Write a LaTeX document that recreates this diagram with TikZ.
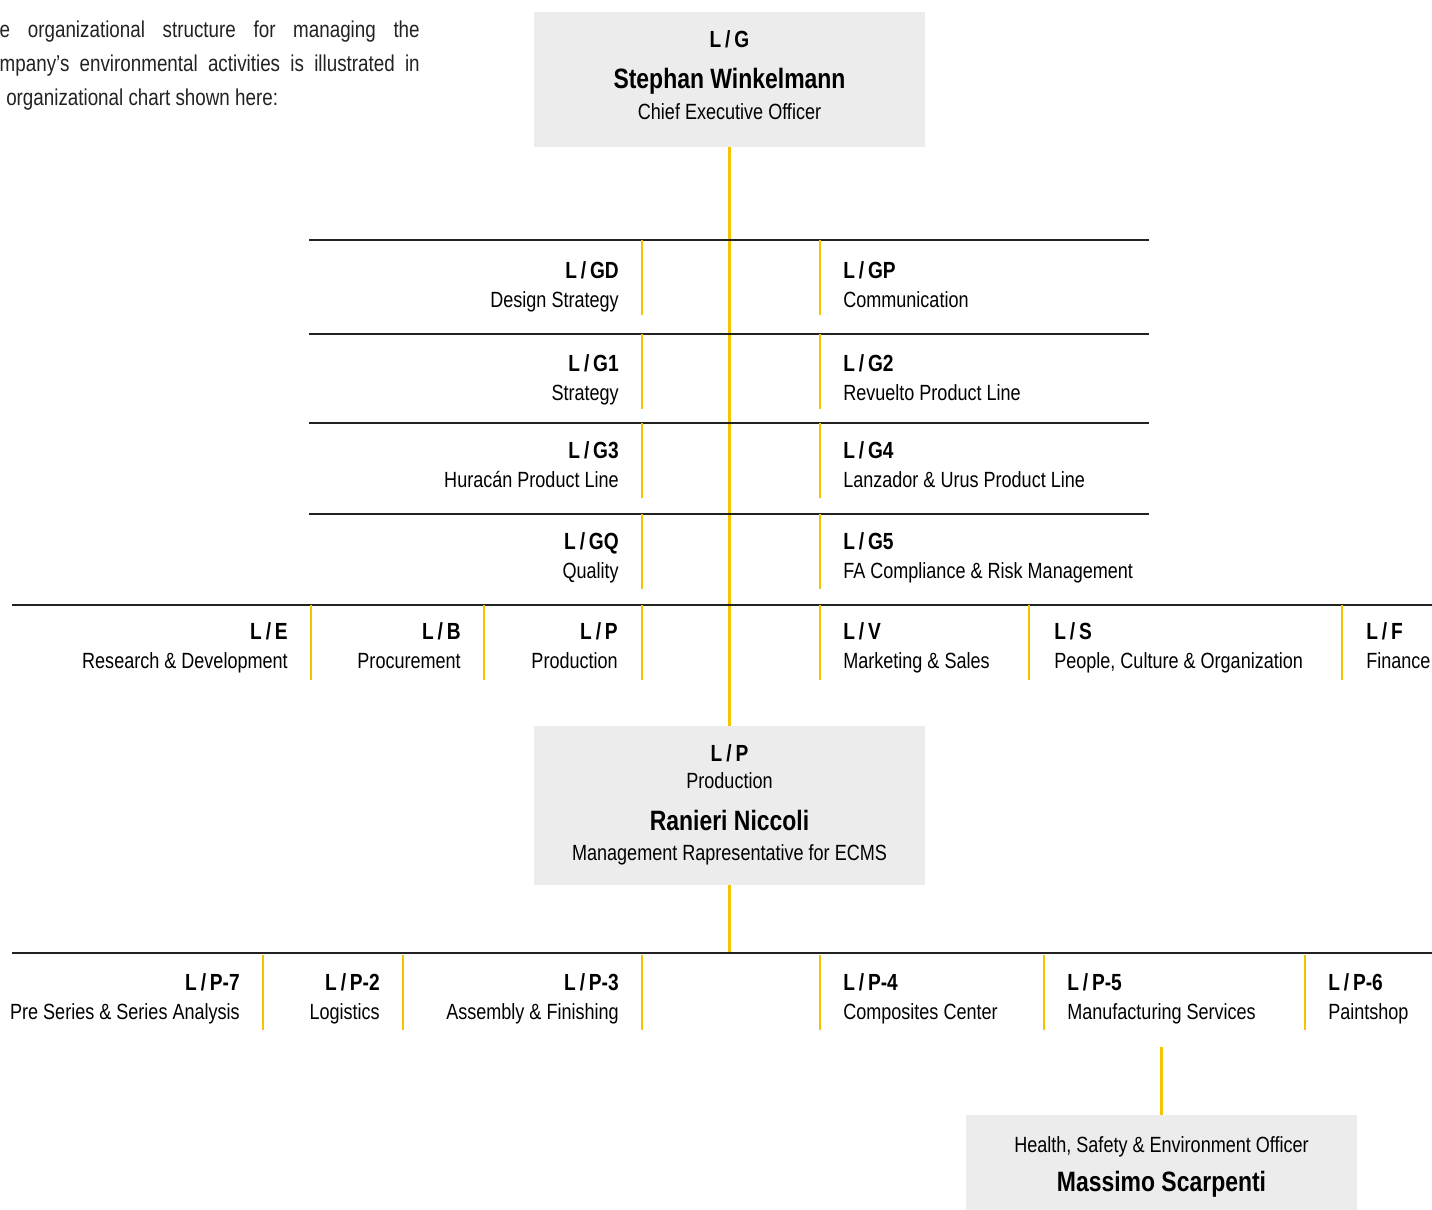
\documentclass[tikz,border=0pt]{standalone}
\usepackage{fontspec}
\setmainfont[FakeStretch=0.82]{Liberation Sans}
\usetikzlibrary{positioning}
\definecolor{lamboyellow}{HTML}{F5C400}
\definecolor{boxgray}{HTML}{ECECEC}
\definecolor{inkgray}{HTML}{222222}

\begin{document}
\begin{tikzpicture}[x=0.75pt,y=-0.75pt,
    every node/.style={inner sep=0pt,text=black},
    txt/.style={font=\fontsize{16.5}{20}\selectfont,text height=11.8pt,text depth=0pt},
    introtxt/.style={font=\fontsize{17.2}{20}\selectfont,text height=12.3pt,text depth=0pt,text=inkgray},
    unitcode/.style={txt,font=\fontsize{17.5}{20}\bfseries\selectfont,text height=12.5pt},
    persname/.style={font=\fontsize{21}{25}\bfseries\selectfont,text height=15pt,text depth=0pt},
    codeL/.style={unitcode,anchor=east},
    descL/.style={txt,anchor=east},
    codeR/.style={unitcode,anchor=west},
    descR/.style={txt,anchor=west},
    headbox/.style={fill=boxgray,minimum width=293.25pt},
    spine/.style={draw=lamboyellow,line width=2.2pt},
    sepline/.style={draw=lamboyellow,line width=1.1pt},
    rule/.style={draw=inkgray,line width=1.1pt}]
  \useasboundingbox (0,0) rectangle (1432,1210);

  % intro text
  \node[introtxt,anchor=east] (intro1) at (420,29) {\makebox[315pt][s]{e organizational structure for managing the}};
  \node[introtxt,anchor=east] (intro2) at (420,63) {\makebox[315pt][s]{mpany’s environmental activities is illustrated in}};
  \node[introtxt,anchor=west] (intro3) at (6,97) {organizational chart shown here:};

  % boxes
  \node[headbox,minimum height=101.25pt] (ceo) at (729.5,79.5) {};
  \node[headbox,minimum height=119.25pt] (prod) at (729.5,805.5) {};
  \node[headbox,minimum height=71.25pt] (hse) at (1161.5,1162.5) {};

  \node[unitcode] (ceo-c) at (729.5,39) {L\,/\,G};
  \node[persname] (ceo-n) at (729.5,78) {Stephan Winkelmann};
  \node[txt] (ceo-t) at (729.5,112) {Chief Executive Officer};

  \node[unitcode] (prod-c) at (729.5,753) {L\,/\,P};
  \node[txt] (prod-d) at (729.5,781) {Production};
  \node[persname] (prod-n) at (729.5,820) {Ranieri Niccoli};
  \node[txt] (prod-t) at (729.5,853) {Management Rapresentative for ECMS};

  \node[txt] (hse-t) at (1161.5,1145) {Health, Safety \& Environment Officer};
  \node[persname] (hse-n) at (1161.5,1181) {Massimo Scarpenti};

  % connectors
  \coordinate (bar2) at (729.5,953);
  \coordinate (p5foot) at (1161.5,1047);
  \draw[spine] (ceo.south) -- (prod.north);
  \draw[spine] (prod.south) -- (bar2);
  \draw[spine] (p5foot) -- (hse.north);

  % rules
  \foreach \y in {240,334,423,514}
    \draw[rule] (309,\y) -- (1149,\y);
  \draw[rule] (12,605) -- (1432,605);
  \draw[rule] (12,953) -- (1432,953);

  % separators
  \foreach \y in {240,334,423,514}{
    \draw[sepline] (642,\y) -- (642,\y+75);
    \draw[sepline] (820,\y) -- (820,\y+75);
  }
  \foreach \x in {311,484,642,820,1029,1342}
    \draw[sepline] (\x,605) -- (\x,680);
  \foreach \x in {263,403,642,820,1044,1305}
    \draw[sepline] (\x,955) -- (\x,1030);

  % staff units
  \node[codeL] (gd) at (619,270) {L\,/\,GD};
  \node[descL] (gd-t) at (619,300) {Design Strategy};
  \node[codeR] (gp) at (843,270) {L\,/\,GP};
  \node[descR] (gp-t) at (843,300) {Communication};

  \node[codeL] (g1) at (619,363) {L\,/\,G1};
  \node[descL] (g1-t) at (619,393) {Strategy};
  \node[codeR] (g2) at (843,363) {L\,/\,G2};
  \node[descR] (g2-t) at (843,393) {Revuelto Product Line};

  \node[codeL] (g3) at (619,450) {L\,/\,G3};
  \node[descL] (g3-t) at (619,480) {Huracán Product Line};
  \node[codeR] (g4) at (843,450) {L\,/\,G4};
  \node[descR] (g4-t) at (843,480) {Lanzador \& Urus Product Line};

  \node[codeL] (gq) at (619,541) {L\,/\,GQ};
  \node[descL] (gq-t) at (619,571) {Quality};
  \node[codeR] (g5) at (843,541) {L\,/\,G5};
  \node[descR] (g5-t) at (843,571) {FA Compliance \& Risk Management};

  % divisions
  \node[codeL] (le) at (288,631) {L\,/\,E};
  \node[descL] (le-t) at (288,661) {Research \& Development};
  \node[codeL] (lb) at (461,631) {L\,/\,B};
  \node[descL] (lb-t) at (461,661) {Procurement};
  \node[codeL] (lp) at (618,631) {L\,/\,P};
  \node[descL] (lp-t) at (618,661) {Production};
  \node[codeR] (lv) at (843,631) {L\,/\,V};
  \node[descR] (lv-t) at (843,661) {Marketing \& Sales};
  \node[codeR] (ls) at (1054,631) {L\,/\,S};
  \node[descR] (ls-t) at (1054,661) {People, Culture \& Organization};
  \node[codeR] (lf) at (1366,631) {L\,/\,F};
  \node[descR] (lf-t) at (1366,661) {Finance};

  % production departments
  \node[codeL] (p7) at (240,982) {L\,/\,P-7};
  \node[descL] (p7-t) at (240,1012) {Pre Series \& Series Analysis};
  \node[codeL] (p2) at (380,982) {L\,/\,P-2};
  \node[descL] (p2-t) at (380,1012) {Logistics};
  \node[codeL] (p3) at (619,982) {L\,/\,P-3};
  \node[descL] (p3-t) at (619,1012) {Assembly \& Finishing};
  \node[codeR] (p4) at (843,982) {L\,/\,P-4};
  \node[descR] (p4-t) at (843,1012) {Composites Center};
  \node[codeR] (p5) at (1067,982) {L\,/\,P-5};
  \node[descR] (p5-t) at (1067,1012) {Manufacturing Services};
  \node[codeR] (p6) at (1328,982) {L\,/\,P-6};
  \node[descR] (p6-t) at (1328,1012) {Paintshop};
\end{tikzpicture}
\end{document}
